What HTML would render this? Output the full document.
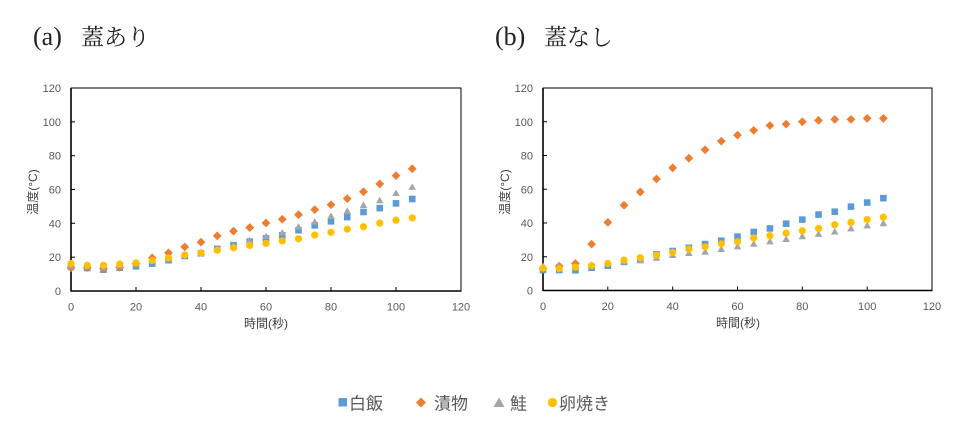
<!DOCTYPE html>
<html>
<head>
<meta charset="utf-8">
<style>
html,body{margin:0;padding:0;background:#fff;}
body{width:969px;height:430px;overflow:hidden;}
svg{display:block;}
.tk{font-family:"Liberation Sans","Noto Sans CJK JP",sans-serif;font-size:11px;fill:#595959;}
.ax{font-family:"Liberation Sans","Noto Sans CJK JP",sans-serif;font-size:12px;fill:#404040;}
.ttl{font-family:"Liberation Serif","Noto Serif CJK SC",serif;fill:#222;}
.lg{font-family:"Liberation Sans","Noto Sans CJK JP",sans-serif;font-size:17px;fill:#595959;}
</style>
</head>
<body>
<svg width="969" height="430" viewBox="0 0 969 430" xmlns="http://www.w3.org/2000/svg">
<defs>
  <rect id="sq" x="-1.015" y="-1.95" width="2.03" height="3.9" fill="#5B9BD5"/>
  <polygon id="dm" points="0,2.6 1.354,0 0,-2.6 -1.354,0" fill="#ED7D31"/>
  <polygon id="tr" points="0,2.1 1.17,-1.75 -1.17,-1.75" fill="#A5A5A5"/>
  <ellipse id="ci" cx="0" cy="0" rx="1.11" ry="2.13" fill="#FFC000"/>
</defs>

<!-- Titles -->
<text class="ttl" x="33" y="45" font-size="26">(a)</text>
<text class="ttl" x="81" y="45" font-size="23">蓋あり</text>
<text class="ttl" x="495" y="45" font-size="26">(b)</text>
<text class="ttl" x="544" y="45" font-size="23">蓋なし</text>

<!-- Chart A frame -->
<rect x="71" y="88" width="390" height="203" fill="none" stroke="#000" stroke-width="1"/>
<line x1="71" y1="88" x2="71" y2="291.5" stroke="#000" stroke-width="1.6"/>
<line x1="70.5" y1="291" x2="461.5" y2="291" stroke="#000" stroke-width="1.6"/>
<g stroke="#000" stroke-width="1">
  <line x1="71" y1="257.2" x2="75" y2="257.2"/>
  <line x1="71" y1="223.3" x2="75" y2="223.3"/>
  <line x1="71" y1="189.5" x2="75" y2="189.5"/>
  <line x1="71" y1="155.7" x2="75" y2="155.7"/>
  <line x1="71" y1="121.8" x2="75" y2="121.8"/>
  <line x1="136" y1="291" x2="136" y2="287"/>
  <line x1="201" y1="291" x2="201" y2="287"/>
  <line x1="266" y1="291" x2="266" y2="287"/>
  <line x1="331" y1="291" x2="331" y2="287"/>
  <line x1="396" y1="291" x2="396" y2="287"/>
</g>
<g class="tk" text-anchor="end">
  <text x="61" y="295">0</text>
  <text x="61" y="261.2">20</text>
  <text x="61" y="227.3">40</text>
  <text x="61" y="193.5">60</text>
  <text x="61" y="159.7">80</text>
  <text x="61" y="125.8">100</text>
  <text x="61" y="92">120</text>
</g>
<g class="tk" text-anchor="middle">
  <text x="71" y="310.5">0</text>
  <text x="136" y="310.5">20</text>
  <text x="201" y="310.5">40</text>
  <text x="266" y="310.5">60</text>
  <text x="331" y="310.5">80</text>
  <text x="396" y="310.5">100</text>
  <text x="461" y="310.5">120</text>
</g>
<text class="ax" x="266" y="327.5" text-anchor="middle">時間(秒)</text>
<text class="ax" transform="translate(37,192) rotate(-90)" text-anchor="middle">温度(°C)</text>

<!-- Chart A data -->
<g transform="translate(71,291) scale(3.25,-1.6917)">
  <use href="#sq" x="0" y="14.2"/><use href="#sq" x="5" y="13.6"/><use href="#sq" x="10" y="12.6"/><use href="#sq" x="15" y="13.8"/><use href="#sq" x="20" y="14.6"/><use href="#sq" x="25" y="16.2"/><use href="#sq" x="30" y="18.2"/><use href="#sq" x="35" y="20.7"/><use href="#sq" x="40" y="22.3"/><use href="#sq" x="45" y="24.9"/><use href="#sq" x="50" y="27.1"/><use href="#sq" x="55" y="29.2"/><use href="#sq" x="60" y="31.1"/><use href="#sq" x="65" y="32.9"/><use href="#sq" x="70" y="35.9"/><use href="#sq" x="75" y="38.8"/><use href="#sq" x="80" y="41.2"/><use href="#sq" x="85" y="43.7"/><use href="#sq" x="90" y="46.7"/><use href="#sq" x="95" y="49"/><use href="#sq" x="100" y="51.8"/><use href="#sq" x="105" y="54.4"/>

  <use href="#dm" x="0" y="13.8"/><use href="#dm" x="5" y="13.8"/><use href="#dm" x="10" y="13.2"/><use href="#dm" x="15" y="14"/><use href="#dm" x="20" y="16.2"/><use href="#dm" x="25" y="19.6"/><use href="#dm" x="30" y="22.5"/><use href="#dm" x="35" y="26.1"/><use href="#dm" x="40" y="28.9"/><use href="#dm" x="45" y="32.6"/><use href="#dm" x="50" y="35.4"/><use href="#dm" x="55" y="37.5"/><use href="#dm" x="60" y="40.2"/><use href="#dm" x="65" y="42.4"/><use href="#dm" x="70" y="45.1"/><use href="#dm" x="75" y="48.1"/><use href="#dm" x="80" y="51"/><use href="#dm" x="85" y="54.6"/><use href="#dm" x="90" y="58.7"/><use href="#dm" x="95" y="63.3"/><use href="#dm" x="100" y="68.2"/><use href="#dm" x="105" y="72.3"/>

  <use href="#tr" x="0" y="15"/><use href="#tr" x="5" y="14.5"/><use href="#tr" x="10" y="14"/><use href="#tr" x="15" y="15"/><use href="#tr" x="20" y="16"/><use href="#tr" x="25" y="18"/><use href="#tr" x="30" y="19"/><use href="#tr" x="35" y="21.5"/><use href="#tr" x="40" y="23"/><use href="#tr" x="45" y="25"/><use href="#tr" x="50" y="27"/><use href="#tr" x="55" y="30"/><use href="#tr" x="60" y="32.4"/><use href="#tr" x="65" y="34.5"/><use href="#tr" x="70" y="38"/><use href="#tr" x="75" y="41"/><use href="#tr" x="80" y="44.3"/><use href="#tr" x="85" y="47.3"/><use href="#tr" x="90" y="50.8"/><use href="#tr" x="95" y="53.6"/><use href="#tr" x="100" y="57.9"/><use href="#tr" x="105" y="61.5"/>

  <use href="#ci" x="0" y="16.2"/><use href="#ci" x="5" y="15.2"/><use href="#ci" x="10" y="15.2"/><use href="#ci" x="15" y="16"/><use href="#ci" x="20" y="16.6"/><use href="#ci" x="25" y="18"/><use href="#ci" x="30" y="19.6"/><use href="#ci" x="35" y="21.3"/><use href="#ci" x="40" y="22.5"/><use href="#ci" x="45" y="24.1"/><use href="#ci" x="50" y="25.5"/><use href="#ci" x="55" y="26.9"/><use href="#ci" x="60" y="28.2"/><use href="#ci" x="65" y="29.6"/><use href="#ci" x="70" y="30.9"/><use href="#ci" x="75" y="33.1"/><use href="#ci" x="80" y="34.7"/><use href="#ci" x="85" y="36.6"/><use href="#ci" x="90" y="38"/><use href="#ci" x="95" y="40.2"/><use href="#ci" x="100" y="41.8"/><use href="#ci" x="105" y="43.2"/>
</g>

<!-- Chart B frame -->
<rect x="543" y="88" width="389" height="202.5" fill="none" stroke="#000" stroke-width="1"/>
<line x1="543" y1="88" x2="543" y2="291" stroke="#000" stroke-width="1.6"/>
<line x1="542.5" y1="290.5" x2="932.5" y2="290.5" stroke="#000" stroke-width="1.6"/>
<g stroke="#000" stroke-width="1">
  <line x1="543" y1="256.75" x2="547" y2="256.75"/>
  <line x1="543" y1="223" x2="547" y2="223"/>
  <line x1="543" y1="189.25" x2="547" y2="189.25"/>
  <line x1="543" y1="155.5" x2="547" y2="155.5"/>
  <line x1="543" y1="121.75" x2="547" y2="121.75"/>
  <line x1="607.8" y1="290.5" x2="607.8" y2="286.5"/>
  <line x1="672.7" y1="290.5" x2="672.7" y2="286.5"/>
  <line x1="737.5" y1="290.5" x2="737.5" y2="286.5"/>
  <line x1="802.3" y1="290.5" x2="802.3" y2="286.5"/>
  <line x1="867.2" y1="290.5" x2="867.2" y2="286.5"/>
</g>
<g class="tk" text-anchor="end">
  <text x="533" y="294.5">0</text>
  <text x="533" y="260.75">20</text>
  <text x="533" y="227">40</text>
  <text x="533" y="193.25">60</text>
  <text x="533" y="159.5">80</text>
  <text x="533" y="125.75">100</text>
  <text x="533" y="92">120</text>
</g>
<g class="tk" text-anchor="middle">
  <text x="543" y="310">0</text>
  <text x="607.8" y="310">20</text>
  <text x="672.7" y="310">40</text>
  <text x="737.5" y="310">60</text>
  <text x="802.3" y="310">80</text>
  <text x="867.2" y="310">100</text>
  <text x="932" y="310">120</text>
</g>
<text class="ax" x="738" y="327" text-anchor="middle">時間(秒)</text>
<text class="ax" transform="translate(509,192) rotate(-90)" text-anchor="middle">温度(°C)</text>

<!-- Chart B data -->
<g transform="translate(543,290.5) scale(3.2417,-1.6875)">
  <use href="#sq" x="0" y="12.1"/><use href="#sq" x="5" y="12.1"/><use href="#sq" x="10" y="12"/><use href="#sq" x="15" y="13.5"/><use href="#sq" x="20" y="14.7"/><use href="#sq" x="25" y="17"/><use href="#sq" x="30" y="18.4"/><use href="#sq" x="35" y="21.4"/><use href="#sq" x="40" y="23.4"/><use href="#sq" x="45" y="25.3"/><use href="#sq" x="50" y="27.5"/><use href="#sq" x="55" y="29.5"/><use href="#sq" x="60" y="31.9"/><use href="#sq" x="65" y="34.7"/><use href="#sq" x="70" y="36.8"/><use href="#sq" x="75" y="39.6"/><use href="#sq" x="80" y="42"/><use href="#sq" x="85" y="45"/><use href="#sq" x="90" y="46.7"/><use href="#sq" x="95" y="49.7"/><use href="#sq" x="100" y="52.1"/><use href="#sq" x="105" y="54.7"/>

  <use href="#dm" x="0" y="13"/><use href="#dm" x="5" y="14.5"/><use href="#dm" x="10" y="16"/><use href="#dm" x="15" y="27.5"/><use href="#dm" x="20" y="40.4"/><use href="#dm" x="25" y="50.5"/><use href="#dm" x="30" y="58.4"/><use href="#dm" x="35" y="66.1"/><use href="#dm" x="40" y="72.7"/><use href="#dm" x="45" y="78.4"/><use href="#dm" x="50" y="83.4"/><use href="#dm" x="55" y="88.5"/><use href="#dm" x="60" y="92.1"/><use href="#dm" x="65" y="94.9"/><use href="#dm" x="70" y="97.8"/><use href="#dm" x="75" y="98.6"/><use href="#dm" x="80" y="100"/><use href="#dm" x="85" y="100.8"/><use href="#dm" x="90" y="101.4"/><use href="#dm" x="95" y="101.4"/><use href="#dm" x="100" y="102"/><use href="#dm" x="105" y="102"/>

  <use href="#tr" x="0" y="14.5"/><use href="#tr" x="5" y="15"/><use href="#tr" x="10" y="13.7"/><use href="#tr" x="15" y="15.2"/><use href="#tr" x="20" y="16.4"/><use href="#tr" x="25" y="17.2"/><use href="#tr" x="30" y="17.8"/><use href="#tr" x="35" y="19.4"/><use href="#tr" x="40" y="21"/><use href="#tr" x="45" y="22.2"/><use href="#tr" x="50" y="23"/><use href="#tr" x="55" y="24.6"/><use href="#tr" x="60" y="26.1"/><use href="#tr" x="65" y="27.7"/><use href="#tr" x="70" y="29.1"/><use href="#tr" x="75" y="30.5"/><use href="#tr" x="80" y="32.1"/><use href="#tr" x="85" y="33.5"/><use href="#tr" x="90" y="34.9"/><use href="#tr" x="95" y="36.8"/><use href="#tr" x="100" y="38.6"/><use href="#tr" x="105" y="39.8"/>

  <use href="#ci" x="0" y="13.3"/><use href="#ci" x="5" y="12.9"/><use href="#ci" x="10" y="13.9"/><use href="#ci" x="15" y="14.7"/><use href="#ci" x="20" y="16"/><use href="#ci" x="25" y="18"/><use href="#ci" x="30" y="19.4"/><use href="#ci" x="35" y="21"/><use href="#ci" x="40" y="22.6"/><use href="#ci" x="45" y="24.6"/><use href="#ci" x="50" y="25.9"/><use href="#ci" x="55" y="27.7"/><use href="#ci" x="60" y="28.9"/><use href="#ci" x="65" y="31.1"/><use href="#ci" x="70" y="32.5"/><use href="#ci" x="75" y="34"/><use href="#ci" x="80" y="35.4"/><use href="#ci" x="85" y="36.8"/><use href="#ci" x="90" y="39"/><use href="#ci" x="95" y="40.4"/><use href="#ci" x="100" y="42"/><use href="#ci" x="105" y="43.4"/>
</g>

<!-- Legend -->
<rect x="338.5" y="398" width="8.5" height="8.5" fill="#5B9BD5"/>
<text class="lg" x="349" y="409.5">白飯</text>
<polygon points="421,397.5 426,402.5 421,407.5 416,402.5" fill="#ED7D31"/>
<text class="lg" x="434" y="409.5">漬物</text>
<polygon points="499,397.5 504.5,407 493.5,407" fill="#A5A5A5"/>
<text class="lg" x="510" y="409.5">鮭</text>
<circle cx="552.5" cy="402.5" r="4.6" fill="#FFC000"/>
<text class="lg" x="559" y="409.5">卵焼き</text>
</svg>
</body>
</html>
